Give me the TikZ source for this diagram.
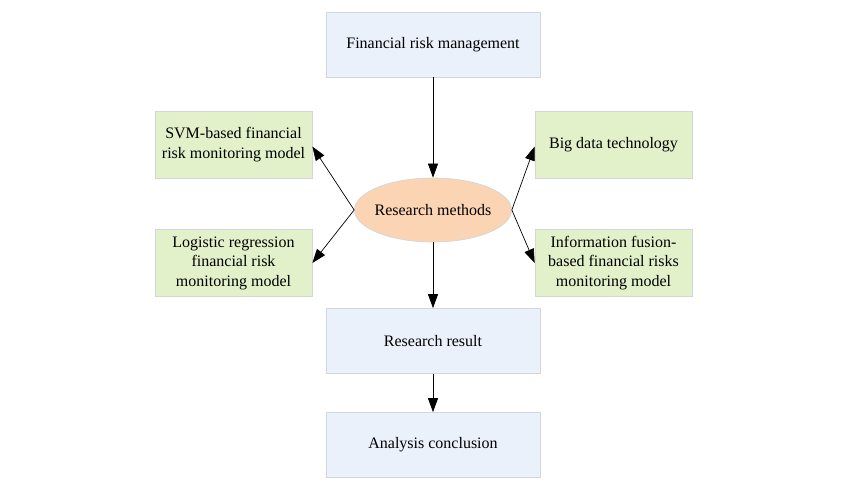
\documentclass[tikz,border=0pt]{standalone}
\usepackage{fontspec}
\setmainfont{Liberation Serif}
\usepackage{tikz}
\usetikzlibrary{arrows.meta,shapes.geometric}
\definecolor{boxblue}{HTML}{EAF1FA}
\definecolor{boxgreen}{HTML}{E2F1CA}
\definecolor{methpeach}{HTML}{FBD4B4}
\definecolor{boxline}{HTML}{D3D6DA}

\begin{document}
\begin{tikzpicture}[x=1pt,y=1pt,>={Triangle[length=14pt,width=10pt]},line width=0.7pt,
  every node/.style={font=\fontsize{16}{19.5}\selectfont,align=center},
  mainbox/.style={rectangle,draw=boxline,fill=boxblue,minimum width=214pt,minimum height=65pt},
  sidebox/.style={rectangle,draw=boxline,fill=boxgreen,minimum width=157pt,minimum height=67pt,inner sep=2pt},
  method/.style={ellipse,draw=boxline,fill=methpeach,minimum width=157pt,minimum height=64pt,inner ysep=0pt,inner xsep=-3pt},
  node distance=165.5pt]
  \useasboundingbox (0,0) rectangle (864,486);
  \node[mainbox] (frm) at (433,441.5) {Financial risk management};
  \node[method]  (rm)   [below of=frm] {Research methods};
  \node[mainbox] (res)  [below of=rm,node distance=131pt] {Research result};
  \node[mainbox] (conc) [below of=res,node distance=104pt] {Analysis conclusion};
  \node[sidebox] (svm)  at (233.5,341.5) {SVM-based financial\\risk monitoring model};
  \node[sidebox] (logr) at (233.5,223) {Logistic regression\\financial risk\\monitoring model};
  \node[sidebox] (bigd) at (613.5,341.5) {Big data technology};
  \node[sidebox] (fus)  at (613.5,223) {Information fusion-\\based financial risks\\monitoring model};

  \path[->] (frm) edge (rm)
        (rm) edge (res)
        (res) edge (conc)
        (rm.west) edge ([yshift=-2pt]svm.east)
                  edge (logr.east)
        (rm.east) edge ([yshift=-2pt]bigd.west)
                  edge (fus.west);
\end{tikzpicture}
\end{document}
